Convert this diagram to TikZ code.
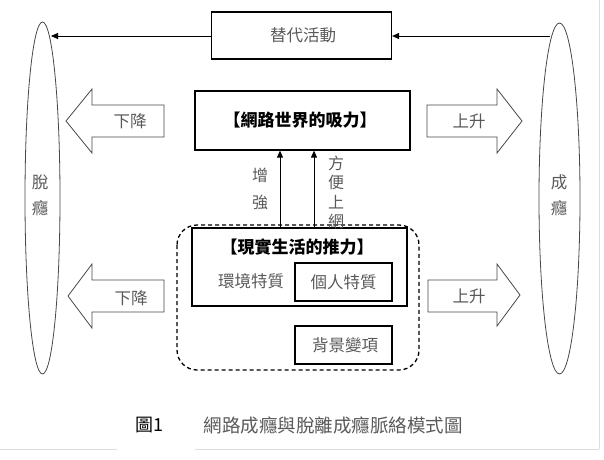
\documentclass[tikz,border=0pt]{standalone}
\usepackage{fontspec}
\setmainfont{Noto Sans CJK TC}
\usetikzlibrary{shapes.geometric,arrows.meta}
\definecolor{lbl}{HTML}{595959}
\definecolor{frame}{HTML}{DDDDDD}
\tikzset{
  box/.style={draw=black,line width=1.2pt,inner sep=0pt},
  lab/.style={text=lbl,font=\fontsize{16.5}{16.5}\selectfont,inner sep=0pt},
  ttl/.style={text=black,font=\fontsize{17}{17}\selectfont\bfseries,inner sep=0pt},
  vlab/.style={text=lbl,font=\fontsize{16}{16}\selectfont,inner sep=0pt,align=center},
  fat/.style={draw=lbl!80!black,line width=0.8pt,fill=white},
  oval/.style={draw=lbl!80!black,line width=0.8pt,ellipse,inner sep=0pt},
  conn/.style={line width=0.9pt,-{Triangle[length=7pt,width=6pt]}},
}
\begin{document}
\begin{tikzpicture}[x=1pt,y=-1pt]
\useasboundingbox (0,0) rectangle (604,459);
% frame lines
\draw[frame,line width=0.8pt] (599,0) -- (599,449);
\draw[frame,line width=0.8pt] (0,449) -- (117,449);
\draw[frame,line width=0.8pt] (195,449) -- (599,449);
% ellipses
\node[oval,minimum width=35pt,minimum height=352pt] (ldz) at (42.5,198) {};
\node[oval,minimum width=41pt,minimum height=351pt] (rdz) at (559.5,198.5) {};
\node[lab] (l1) at (40,182) {脫};
\node[lab] (l2) at (40,208) {癮};
\node[lab] (r1) at (559,182) {成};
\node[lab] (r2) at (559,208) {癮};
% top box
\node[box,minimum width=180pt,minimum height=47pt] (alt) at (301.5,35.5) {};
\node[lab] (altt) at (303,35.5) {替代活動};
\coordinate (la) at (51,36);
\coordinate (ra) at (550,36);
\draw[conn] (alt.west |- la) -- (la);
\draw[conn] (ra) -- (alt.east |- ra);
% middle box
\node[box,minimum width=215pt,minimum height=59pt] (pull) at (302.5,120.5) {};
\node[ttl] (pullt) at (300,120) {【網路世界的吸力】};
% fat arrows
\draw[fat] (164,105) -- (92,105) -- (92,89) -- (66,121) -- (92,153) -- (92,137) -- (164,137) -- cycle;
\node[lab] (d1) at (130,121) {下降};
\draw[fat] (427,105) -- (497,105) -- (497,89) -- (522,121) -- (497,153) -- (497,137) -- (427,137) -- cycle;
\node[lab] (u1) at (469,121) {上升};
\draw[fat] (164,280) -- (92,280) -- (92,264) -- (68,296) -- (92,328) -- (92,312) -- (164,312) -- cycle;
\node[lab] (d2) at (131,298) {下降};
\draw[fat] (428,280) -- (497,280) -- (497,264) -- (520,295) -- (497,326) -- (497,312) -- (428,312) -- cycle;
\node[lab] (u2) at (469,296) {上升};
% dashed group
\draw[line width=1.3pt,dash pattern=on 4pt off 3pt,rounded corners=20pt] (177,225) rectangle (419,370);
% push box
\node[box,minimum width=215pt,minimum height=78pt] (push) at (299.5,267) {};
\node[ttl] (pusht) at (297,247) {【現實生活的推力】};
\node[lab] (env) at (251,281) {環境特質};
\node[box,minimum width=97pt,minimum height=38pt] (pers) at (343.5,282) {};
\node[lab] (perst) at (343.5,282) {個人特質};
\node[box,minimum width=97pt,minimum height=38pt] (bg) at (343.5,345) {};
\node[lab] (bgt) at (345,345) {背景變項};
% up arrows
\coordinate (ax1) at (280,0);
\coordinate (ax2) at (314,0);
\draw[conn] (push.north -| ax1) -- (pull.south -| ax1);
\draw[conn] (push.north -| ax2) -- (pull.south -| ax2);
\node[vlab] (inc1) at (260,175) {增};
\node[vlab] (inc2) at (260,202) {強};
\node[vlab] (c1) at (336,163) {方};
\node[vlab] (c2) at (336,182) {便};
\node[vlab] (c3) at (336,202) {上};
\node[vlab] (c4) at (336,221) {網};
% caption
\node[text=black,font=\fontsize{18}{18}\selectfont,inner sep=0pt] (fig) at (149,425) {圖1};
\node[lab,font=\fontsize{18.5}{18.5}\selectfont] (cap) at (333,425) {網路成癮與脫離成癮脈絡模式圖};
\end{tikzpicture}
\end{document}
